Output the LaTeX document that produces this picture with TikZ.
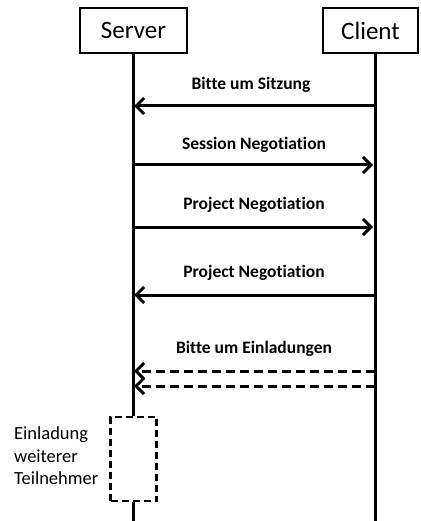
\documentclass[tikz,border=0pt]{standalone}
\usepackage{fontspec}
\setmainfont{Carlito}[Ligatures=NoCommon]
\usetikzlibrary{arrows.meta}

\tikzset{
  party/.style={draw, line width=2.5pt, minimum height=45pt, inner sep=0pt, font=\fontsize{25}{30}\selectfont},
  lifeline/.style={line width=3pt},
  msg/.style={line width=3pt, -{Straight Barb[length=8pt, width=16pt]}},
  lbl/.style={inner sep=0pt, font=\bfseries\fontsize{17.5}{21}\selectfont}
}

\begin{document}
\begin{tikzpicture}[x=1pt, y=-1pt]
  \useasboundingbox (0,0) rectangle (420,521);

  % the two parties
  \node[party, minimum width=107pt] (server) at (133.5,30.5) {Server};
  \node[party, minimum width=95pt] (client) at (370.5,30.5) {Client};

  % lifelines
  \coordinate (cbot) at (375,521);
  \coordinate (sbot) at (133,521);
  \draw[lifeline] (client.south -| cbot) -- (cbot);

  % messages
  \coordinate (c1) at (375,106);  \coordinate (s1) at (134,106);
  \coordinate (c2) at (373,165);  \coordinate (s2) at (133,165);
  \coordinate (c3) at (373,227);  \coordinate (s3) at (133,227);
  \coordinate (c4) at (375,295);  \coordinate (s4) at (134,295);
  \coordinate (c5) at (375,371);  \coordinate (s5) at (134,371);
  \coordinate (c6) at (375,386);  \coordinate (s6) at (134,386);

  \draw[msg] (c1) -- (s1);
  \node[lbl] (l1) at (251,85) {Bitte um Sitzung};

  \draw[msg] (s2) -- (c2);
  \node[lbl] (l2) at (254,145) {Session Negotiation};

  \draw[msg] (s3) -- (c3);
  \node[lbl] (l3) at (254,205) {Project Negotiation};

  \draw[msg] (c4) -- (s4);
  \node[lbl] (l4) at (254,273) {Project Negotiation};

  \draw[msg, dash pattern=on 9pt off 5pt] (c5) -- (s5);
  \draw[msg, dash pattern=on 9pt off 5pt] (c6) -- (s6);
  \node[lbl] (l5) at (254,349) {Bitte um Einladungen};

  % invitation step on the server side
  \node[draw, line width=2.5pt, dash pattern=on 7pt off 4pt, minimum width=46pt, minimum height=84pt] (invite) at (133.5,459) {};
  \draw[lifeline] (server.south) -- (invite.north -| server.south);
  \draw[lifeline] (invite.south -| sbot) -- (sbot);

  \node[anchor=west, align=left, inner sep=0pt, font=\fontsize{18.5}{22.5}\selectfont] (note) at (14,456) {Einladung\\weiterer\\Teilnehmer};
\end{tikzpicture}
\end{document}
